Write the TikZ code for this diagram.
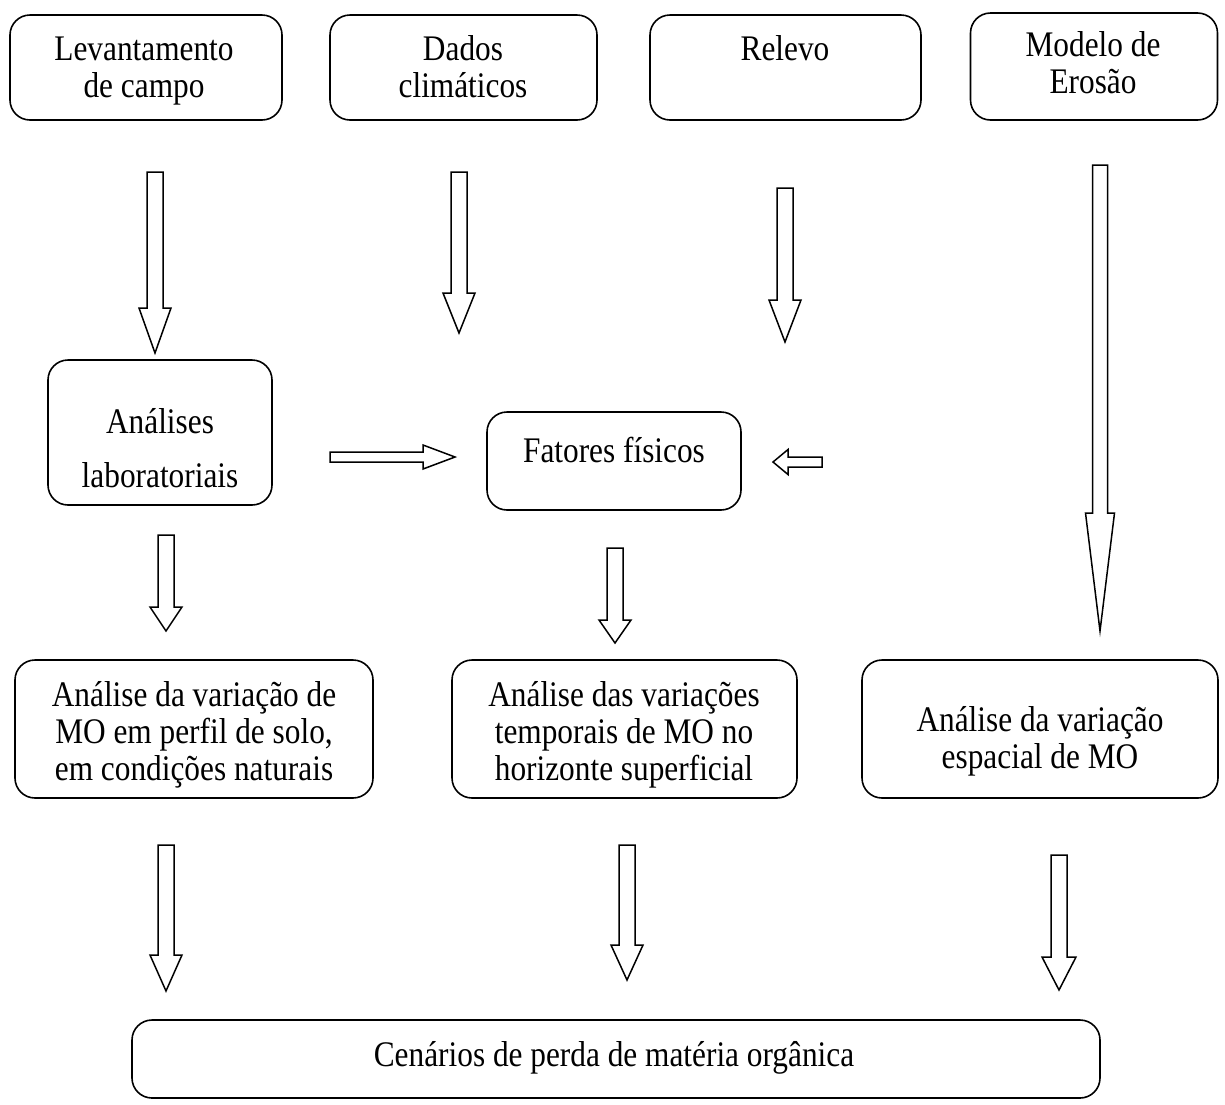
\documentclass[tikz,border=0pt]{standalone}
\usepackage{fontspec}
\usepackage{graphicx}
\setmainfont{Liberation Serif}
\newcommand\darrow[7]{% name, x, ytop, yhead, ytip, halfshaft, halfhead
  \draw[arr] (#2-#6,#3) -- (#2+#6,#3) -- (#2+#6,#4) -- (#2+#7,#4) -- (#2,#5) -- (#2-#7,#4) -- (#2-#6,#4) -- cycle;
  \coordinate (#1) at (#2,#5);}
\newcommand\harrow[7]{% name, y, xstart, xhead, xtip, halfshaft, halfhead
  \draw[arr] (#3,#2-#6) -- (#4,#2-#6) -- (#4,#2-#7) -- (#5,#2) -- (#4,#2+#7) -- (#4,#2+#6) -- (#3,#2+#6) -- cycle;
  \coordinate (#1) at (#5,#2);}
\newcommand\tline[4]{\node[txt] (#1) at (#2,#3) {\scalebox{0.87}[1]{#4}};}
\begin{document}
\begin{tikzpicture}[x=1pt,y=-1pt,
  box/.style={draw,line width=1.6pt,rounded corners=20pt,inner sep=0pt},
  arr/.style={draw,line width=1.5pt,line join=miter,fill=white},
  txt/.style={font=\fontsize{36}{40}\selectfont,anchor=base,inner sep=0pt}]
\useasboundingbox (0,0) rectangle (1225,1104);

% top row boxes
\node[box,minimum width=272pt,minimum height=105pt] (lev) at (146,67.5) {};
\node[box,minimum width=267pt,minimum height=105pt] (dad) at (463.5,67.5) {};
\node[box,minimum width=271pt,minimum height=105pt] (rel) at (785.5,67.5) {};
\node[box,minimum width=247pt,minimum height=107pt] (mod) at (1094,66.5) {};
\tline{lev1}{144}{60}{Levantamento}
\tline{lev2}{144}{97}{de campo}
\tline{dad1}{463}{60}{Dados}
\tline{dad2}{463}{97}{climáticos}
\tline{rel1}{785}{60}{Relevo}
\tline{mod1}{1093}{56}{Modelo de}
\tline{mod2}{1093}{93}{Erosão}

% middle row boxes
\node[box,minimum width=224pt,minimum height=145pt] (ana) at (160,432.5) {};
\node[box,minimum width=254pt,minimum height=98pt] (fat) at (614,461) {};
\tline{ana1}{160}{433}{Análises}
\tline{ana2}{160}{487}{laboratoriais}
\tline{fat1}{614}{462}{Fatores físicos}

% third row boxes
\node[box,minimum width=358pt,minimum height=138pt] (vl) at (194,729) {};
\node[box,minimum width=345pt,minimum height=138pt] (vm) at (624.5,729) {};
\node[box,minimum width=356pt,minimum height=138pt] (vr) at (1040,729) {};
\tline{vl1}{194}{706}{Análise da variação de}
\tline{vl2}{194}{743}{MO em perfil de solo,}
\tline{vl3}{194}{780}{em condições naturais}
\tline{vm1}{624}{706}{Análise das variações}
\tline{vm2}{624}{743}{temporais de MO no}
\tline{vm3}{624}{780}{horizonte superficial}
\tline{vr1}{1040}{731}{Análise da variação}
\tline{vr2}{1040}{768}{espacial de MO}

% bottom box
\node[box,minimum width=968pt,minimum height=78pt] (cen) at (616,1059) {};
\tline{cen1}{614}{1066}{Cenários de perda de matéria orgânica}

% block arrows, first level
\darrow{a1}{155}{172}{308}{353}{8}{16}
\darrow{a2}{459}{172}{293}{333}{8}{16}
\darrow{a3}{785}{188}{300}{342}{8}{16}
\darrow{a4}{1100}{165}{513}{631}{7.5}{14.5}

% horizontal arrows
\harrow{h1}{457}{330}{423}{455}{5}{12}
\harrow{h2}{462}{822}{788}{773}{5}{12.5}

% second level
\darrow{b1}{166}{535}{607}{631}{8}{16}
\darrow{b2}{615}{548}{620}{643}{8}{16}

% third level
\darrow{c1}{166}{845}{955}{991}{8}{16}
\darrow{c2}{627}{845}{945}{980}{8}{16}
\darrow{c3}{1059}{855}{957}{990}{8}{17}
\end{tikzpicture}
\end{document}
